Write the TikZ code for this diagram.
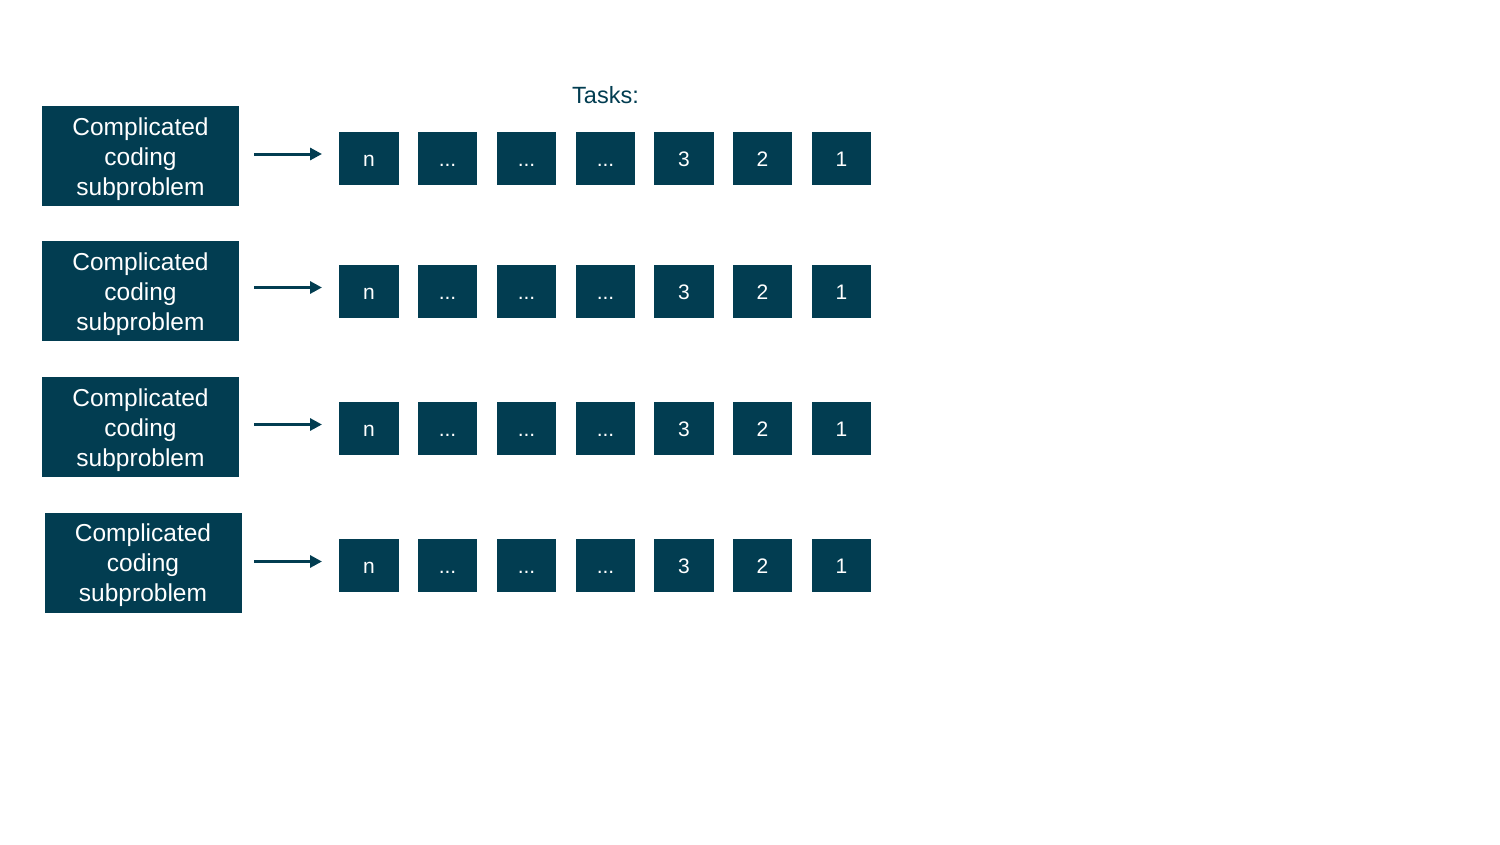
\documentclass[tikz,border=0pt]{standalone}
\usepackage{fontspec}
\setmainfont{Liberation Sans}
\usetikzlibrary{arrows.meta}
\definecolor{navy}{HTML}{023D51}
\newcommand{\tdots}{...}
\newcommand{\probtext}{\raisebox{-3pt}[\height][\depth]{\begin{tabular}{@{}c@{}}Complicated\\coding\\subproblem\end{tabular}}}
\begin{document}
\begin{tikzpicture}[x=1pt,y=-1pt,
  probbox/.style={fill=navy, text=white, minimum width=197pt, minimum height=100pt, align=center, inner sep=0pt, font=\fontsize{24.5}{30}\selectfont},
  taskbox/.style={fill=navy, text=white, minimum width=59.5pt, minimum height=53pt, inner sep=0pt, text height=15pt, text depth=0pt, font=\fontsize{21}{24}\selectfont},
  conn/.style={navy, line width=3pt, -{Triangle[length=12pt,width=12pt]}}]
\useasboundingbox (0,0) rectangle (1500,844);
\node[text=navy, font=\fontsize{23.5}{28}\selectfont] (tasks) at (605.5,95) {Tasks:};
\foreach \r/\bx/\by/\ay/\ty in {1/140.5/156/154/158.5, 2/140.5/291/287.5/291.5, 3/140.5/427/424.5/428.5, 4/143/562.5/561.5/565.5} {
  \node[probbox] (p\r) at (\bx,\by) {\probtext};
  \coordinate (s\r) at (254,\ay);
  \foreach \i/\x/\t in {1/369/n, 2/447.5/\tdots, 3/526.5/\tdots, 4/605.5/\tdots, 5/684/3, 6/762.5/2, 7/841.5/1} {
    \node[taskbox] (t\r-\i) at (\x,\ty) {\t};
  }
  \coordinate (e\r) at (322,\ay);
  \draw[conn] (s\r) -- (e\r);
}
\end{tikzpicture}
\end{document}
